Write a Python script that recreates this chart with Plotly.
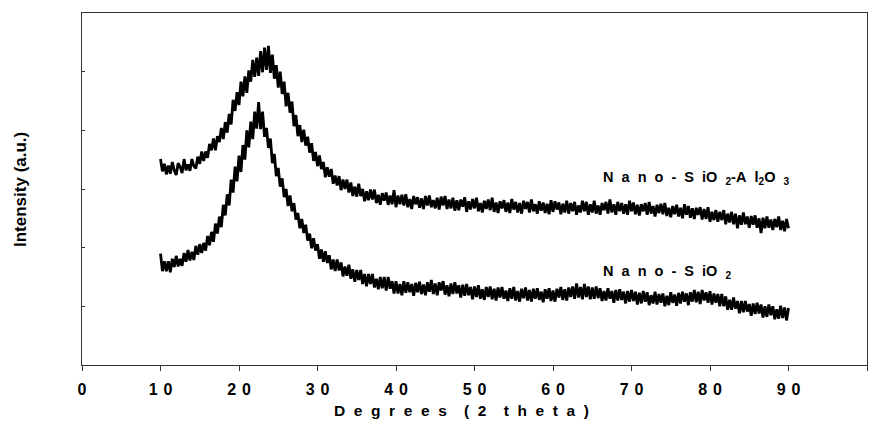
import numpy as np
import plotly.graph_objects as go

# XRD scans, 10-90 deg 2theta, 0.25 deg step (4 readings per degree)
two_theta_start = 10.0
two_theta_stop = 90.0

sio2_al2o3 = [
    351, 330, 343, 325,  340, 326, 346, 332,  324, 344, 338, 327,
    351, 332, 342, 331,  351, 339, 335, 355,  343, 364, 348, 364,
    353, 377, 366, 386,  366, 390, 380, 404,  385, 414, 396, 428,
    410, 452, 433, 465,  443, 483, 458, 492,  464, 502, 483, 520,
    491, 524, 493, 535,  499, 541, 503, 544,  498, 529, 488, 511,
    473, 500, 462, 483,  441, 464, 430, 449,  407, 426, 390, 409,
    380, 401, 374, 389,  362, 378, 348, 363,  339, 357, 334, 346,
    320, 337, 321, 334,  309, 323, 306, 322,  298, 316, 300, 316,
    294, 311, 288, 304,  287, 309, 288, 300,  279, 296, 281, 299,
    282, 299, 276, 290,  273, 293, 280, 294,  273, 289, 274, 298,
    269, 289, 274, 290,  272, 291, 269, 283,  266, 288, 274, 286,
    268, 284, 266, 288,  272, 289, 269, 281,  267, 285, 265, 287,
    272, 288, 266, 282,  267, 285, 263, 281,  264, 282, 270, 286,
    261, 279, 265, 283,  267, 285, 262, 276,  260, 280, 266, 282,
    264, 285, 261, 277,  259, 279, 267, 281,  261, 277, 259, 283,
    265, 278, 260, 276,  258, 280, 266, 278,  260, 282, 262, 274,
    258, 279, 263, 277,  259, 275, 257, 281,  261, 279, 265, 277,
    257, 275, 260, 280,  258, 276, 262, 278,  256, 272, 260, 280,
    262, 278, 256, 274,  260, 280, 258, 272,  256, 276, 264, 278,
    258, 282, 260, 274,  256, 278, 262, 276,  258, 274, 256, 280,
    262, 277, 257, 273,  255, 274, 262, 276,  256, 278, 258, 271,
    253, 273, 259, 275,  257, 276, 254, 268,  252, 271, 257, 273,
    253, 268, 250, 274,  256, 271, 251, 267,  249, 268, 256, 269,
    248, 266, 249, 269,  244, 261, 247, 264,  244, 261, 247, 264,
    240, 258, 243, 261,  240, 258, 233, 255,  239, 260, 240, 253,
    234, 254, 239, 255,  234, 250, 225, 251,  233, 253, 234, 248,
    230, 249, 235, 253,  230, 246, 228, 249,
    233,
]

sio2 = [
    190, 160, 177, 160,  177, 158, 181, 167,  186, 168, 181, 169,
    191, 176, 196, 178,  193, 179, 203, 188,  206, 191, 208, 195,
    220, 204, 227, 210,  241, 224, 253, 235,  273, 255, 291, 272,
    316, 294, 338, 313,  357, 329, 375, 350,  400, 371, 415, 385,
    432, 403, 448, 402,  432, 389, 404, 370,  386, 344, 360, 322,
    336, 304, 318, 286,  300, 271, 289, 262,  276, 248, 259, 233,
    249, 225, 239, 212,  224, 199, 216, 195,  206, 181, 197, 176,
    194, 174, 187, 163,  180, 160, 180, 161,  175, 151, 168, 152,
    171, 147, 163, 142,  162, 145, 162, 138,  155, 134, 155, 138,
    155, 132, 147, 129,  150, 131, 150, 127,  150, 130, 143, 122,
    143, 122, 138, 119,  143, 123, 141, 124,  138, 118, 140, 124,
    142, 121, 137, 119,  141, 125, 145, 121,  139, 119, 141, 127,
    143, 120, 136, 117,  139, 121, 141, 122,  136, 115, 137, 118,
    138, 119, 133, 112,  134, 116, 136, 113,  129, 111, 133, 116,
    134, 112, 130, 110,  132, 115, 133, 113,  127, 109, 131, 113,
    133, 110, 126, 108,  130, 114, 132, 110,  128, 108, 130, 113,
    131, 111, 125, 107,  129, 113, 131, 109,  127, 108, 130, 115,
    133, 111, 129, 110,  132, 116, 134, 113,  139, 115, 133, 112,
    138, 116, 134, 112,  132, 113, 134, 114,  131, 109, 126, 110,
    131, 113, 126, 106,  128, 110, 129, 111,  125, 105, 126, 108,
    128, 109, 125, 103,  123, 105, 126, 108,  124, 102, 119, 105,
    125, 103, 121, 106,  122, 100, 118, 102,  124, 106, 120, 101,
    123, 105, 125, 108,  122, 102, 124, 108,  128, 107, 125, 104,
    128, 110, 124, 106,  126, 103, 122, 106,  121, 100, 121, 100,
    117, 94, 111, 94,    115, 96, 109, 88,    109, 90, 109, 91,
    104, 84, 105, 87,    106, 88, 103, 81,    100, 82, 103, 85,
    100, 78, 95, 79,     101, 80, 98, 76,
    97,
]

x_ticks = [0, 10, 20, 30, 40, 50, 60, 70, 80, 90, 100]
x_tick_text = ["\u00a0\u200a".join(str(v)) for v in x_ticks]

SP = "\u00a0\u00a0"
label_top = (SP.join("Nano-S") + SP + "iO" + SP + "<sub>2</sub>-A" + SP
             + "l<sub>2</sub>O" + SP + "<sub>3</sub>")
label_bottom = SP.join("Nano-S") + SP + "iO" + SP + "<sub>2</sub>"
x_title = SP.join("Degrees") + SP * 2 + SP.join("(2") + SP * 2 + SP.join("theta)")

x_top = np.linspace(two_theta_start, two_theta_stop, len(sio2_al2o3))
x_bot = np.linspace(two_theta_start, two_theta_stop, len(sio2))

font = "Liberation Sans, Arial, sans-serif"

fig = go.Figure()
fig.add_trace(go.Scatter(x=x_top, y=sio2_al2o3, mode="lines",
                         line=dict(color="black", width=2.8), showlegend=False))
fig.add_trace(go.Scatter(x=x_bot, y=sio2, mode="lines",
                         line=dict(color="black", width=2.8), showlegend=False))

fig.add_annotation(x=66.1, y=319, xref="x", yref="y", text=label_top,
                   showarrow=False, xanchor="left", yanchor="middle",
                   font=dict(family=font, size=14.5, color="black", weight="bold"))
fig.add_annotation(x=66.1, y=158, xref="x", yref="y", text=label_bottom,
                   showarrow=False, xanchor="left", yanchor="middle",
                   font=dict(family=font, size=14.5, color="black", weight="bold"))
fig.add_annotation(x=0.484, y=-0.128, xref="paper", yref="paper", text=x_title,
                   showarrow=False, xanchor="center", yanchor="middle",
                   font=dict(family=font, size=15.5, color="black", weight="bold"))
fig.add_annotation(x=-0.079, y=0.5, xref="paper", yref="paper",
                   text="Intensity (a.u.)", showarrow=False,
                   textangle=-90, xanchor="center", yanchor="middle",
                   font=dict(family=font, size=17, color="black", weight="bold"))

fig.update_layout(
    width=885, height=432,
    margin=dict(l=82, r=18, t=13, b=67),
    paper_bgcolor="white", plot_bgcolor="white",
    font=dict(family=font, color="black"),
)
fig.update_xaxes(range=[0, 100], tickvals=x_ticks, ticktext=x_tick_text,
                 ticks="outside", ticklen=5, tickcolor="#333",
                 ticklabelstandoff=5,
                 showline=True, linecolor="#333", linewidth=1, mirror=True,
                 showgrid=False, zeroline=False,
                 tickfont=dict(family=font, size=16, color="black", weight="bold"))
fig.update_yaxes(range=[0, 600], dtick=100, showticklabels=False,
                 ticks="inside", ticklen=3, tickcolor="#333",
                 showline=True, linecolor="#333", linewidth=1, mirror=True,
                 showgrid=False, zeroline=False)

fig.write_html("out.html")
